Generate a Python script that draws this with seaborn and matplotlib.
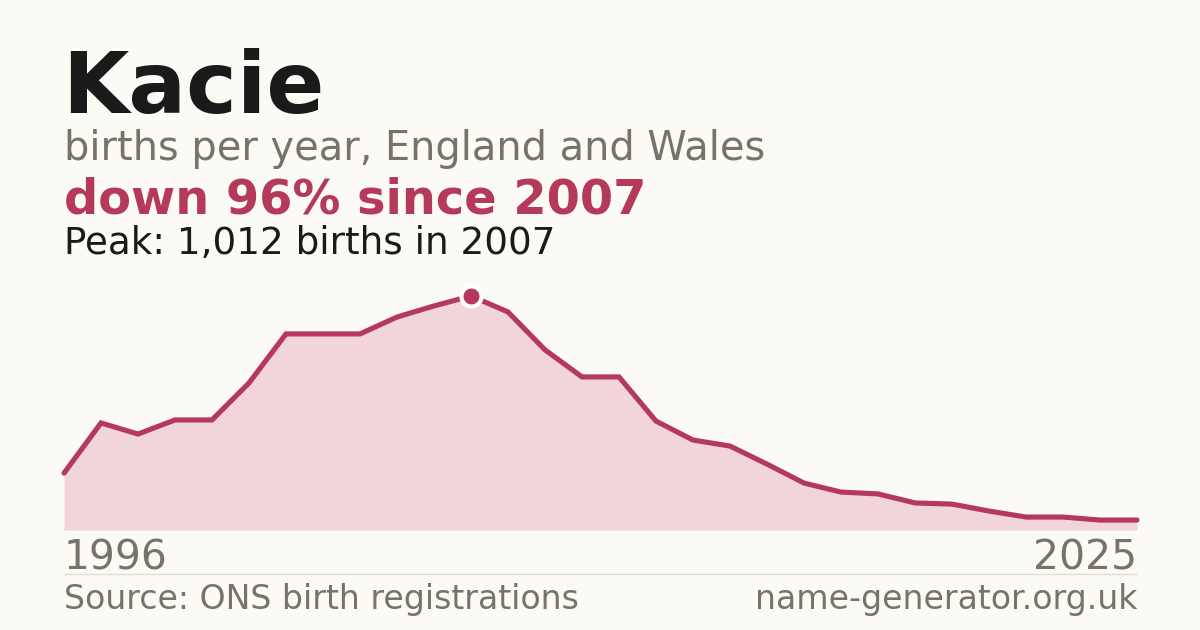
import pandas as pd
import matplotlib.pyplot as plt
import seaborn as sns

# ---------------------------------------------------------------------------
# Dati: nascite per anno
# ---------------------------------------------------------------------------

anni = list(range(1996, 2026))
nascite = [246, 463, 415, 476, 476, 636, 848, 848, 848, 921,
           969, 1012, 943, 779, 662, 662, 471, 389, 363, 285,
           203, 164, 156, 117, 112, 82, 56, 56, 43, 43]

nome = "Kacie"
sottotitolo = "births per year, England and Wales"
fonte = "Source: ONS birth registrations"
sito = "name-generator.org.uk"

# ---------------------------------------------------------------------------
# Configurazione
# ---------------------------------------------------------------------------

SFONDO = "#fbfaf5"
ROSSO = "#b5395a"
ROSA = "#f2d5da"
GRIGIO = "#78726b"
NERO = "#1a1a1a"

sns.set_theme(style="white")
plt.rcParams["font.family"] = ["DejaVu Sans"]

df = pd.DataFrame({"anno": anni, "nascite": nascite})
anno_picco = int(df.loc[df["nascite"].idxmax(), "anno"])
picco = int(df["nascite"].max())
calo = round((1 - df["nascite"].iloc[-1] / picco) * 100)

fig = plt.figure(figsize=(12, 6.3), dpi=100, facecolor=SFONDO)

# area del grafico: x da 64 a 1137 px, y da 530 (base) a 280 px
ax = fig.add_axes([64 / 1200, 1 - 530 / 630, (1137 - 64) / 1200, 250 / 630])
ax.set_facecolor(SFONDO)

ax.fill_between(df["anno"], df["nascite"], 0, color=ROSA, lw=0)
sns.lineplot(data=df, x="anno", y="nascite", ax=ax, color=ROSSO, lw=3.7,
             solid_joinstyle="miter", clip_on=False)
ax.axhline(0, color="#e7dcd9", lw=1.2)
ax.scatter([anno_picco], [picco], s=210, color=ROSSO, edgecolor="white",
           linewidth=3, zorder=5, clip_on=False)

ax.set_xlim(anni[0], anni[-1])
ax.set_ylim(0, picco * 250 / 234)
ax.set_axis_off()

# ---------------------------------------------------------------------------
# Testi
# ---------------------------------------------------------------------------

def testo(x, y, s, **kw):
    fig.text(x / 1200, 1 - y / 630, s, va="baseline", **kw)

testo(62, 113, nome, fontsize=61.7, fontweight="bold", color=NERO)
testo(64, 160, sottotitolo, fontsize=28.7, color=GRIGIO)
testo(64, 214, f"down {calo}% since {anno_picco}", fontsize=34.5,
      fontweight="bold", color=ROSSO)
testo(64, 254, f"Peak: {picco:,} births in {anno_picco}", fontsize=26.8,
      color=NERO)

testo(64, 569, str(anni[0]), fontsize=29.4, color=GRIGIO)
testo(1137, 569, str(anni[-1]), fontsize=29.4, color=GRIGIO, ha="right")

fig.add_artist(plt.Line2D([64 / 1200, 1137 / 1200], [1 - 574 / 630] * 2,
                          color="#e0ddd5", lw=1))

testo(64, 609, fonte, fontsize=23.9, color=GRIGIO)
testo(1137, 609, sito, fontsize=23.9, color=GRIGIO, ha="right")

fig.savefig("out.png", dpi=100, facecolor=SFONDO)
plt.close(fig)
